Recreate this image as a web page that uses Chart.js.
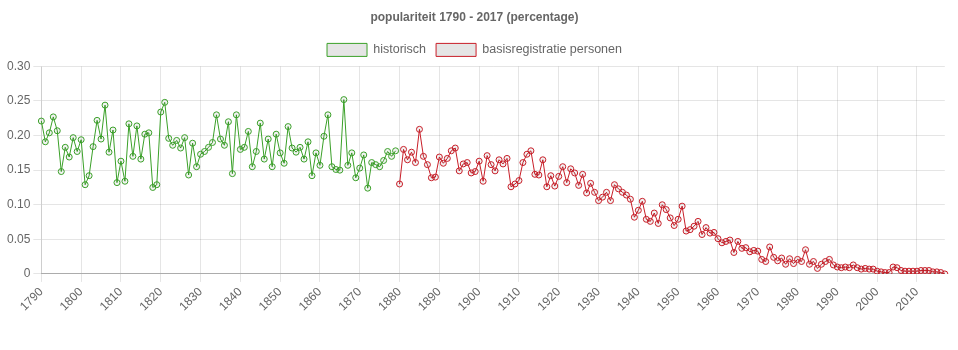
<!DOCTYPE html>
<html>
<head>
<meta charset="utf-8">
<script src="https://cdn.jsdelivr.net/npm/chart.js@4.4.1/dist/chart.umd.min.js"></script>
<style>
  html, body { margin: 0; padding: 0; background: #fff; }
  #wrap { width: 958px; height: 350px; }
</style>
</head>
<body>
<div id="wrap"><canvas id="chart"></canvas></div>
<script>
const firstYear = 1790;
const lastYear = 2017;

// historisch, 1790 - 1879
const historischValues = [
  0.221, 0.191, 0.204, 0.227, 0.207, 0.148, 0.183, 0.169, 0.197, 0.177,
  0.194, 0.129, 0.142, 0.184, 0.222, 0.195, 0.244, 0.176, 0.208, 0.132,
  0.163, 0.134, 0.217, 0.170, 0.214, 0.166, 0.202, 0.204, 0.125, 0.129,
  0.234, 0.248, 0.196, 0.186, 0.193, 0.182, 0.197, 0.143, 0.189, 0.155,
  0.173, 0.177, 0.183, 0.190, 0.230, 0.195, 0.186, 0.220, 0.145, 0.230,
  0.180, 0.183, 0.206, 0.155, 0.177, 0.218, 0.166, 0.195, 0.155, 0.202,
  0.175, 0.160, 0.213, 0.182, 0.176, 0.183, 0.166, 0.191, 0.142, 0.175,
  0.157, 0.199, 0.230, 0.155, 0.151, 0.150, 0.252, 0.157, 0.175, 0.139,
  0.153, 0.172, 0.124, 0.161, 0.158, 0.155, 0.164, 0.177, 0.170, 0.178
];

// basisregistratie personen, 1880 - 2017
const brpValues = [
  0.130, 0.180, 0.165, 0.176, 0.161, 0.209, 0.170, 0.158, 0.139, 0.140,
  0.169, 0.160, 0.167, 0.178, 0.182, 0.149, 0.159, 0.161, 0.146, 0.148,
  0.163, 0.134, 0.171, 0.158, 0.149, 0.165, 0.159, 0.167, 0.126, 0.130,
  0.135, 0.161, 0.173, 0.178, 0.144, 0.143, 0.165, 0.126, 0.142, 0.127,
  0.141, 0.155, 0.132, 0.152, 0.146, 0.128, 0.144, 0.117, 0.131, 0.118,
  0.106, 0.111, 0.118, 0.106, 0.129, 0.123, 0.118, 0.114, 0.108, 0.082,
  0.092, 0.105, 0.079, 0.076, 0.088, 0.073, 0.100, 0.093, 0.081, 0.070,
  0.079, 0.098, 0.062, 0.064, 0.069, 0.076, 0.057, 0.067, 0.059, 0.060,
  0.051, 0.045, 0.047, 0.049, 0.031, 0.047, 0.037, 0.038, 0.032, 0.034,
  0.033, 0.021, 0.018, 0.039, 0.024, 0.019, 0.023, 0.014, 0.022, 0.015,
  0.021, 0.018, 0.035, 0.014, 0.018, 0.008, 0.014, 0.018, 0.021, 0.013,
  0.010, 0.009, 0.010, 0.009, 0.013, 0.009, 0.007, 0.008, 0.007, 0.007,
  0.004, 0.003, 0.002, 0.002, 0.010, 0.009, 0.005, 0.004, 0.004, 0.004,
  0.004, 0.005, 0.005, 0.005, 0.003, 0.003, 0.002, 0.000
];

const years = [];
for (let y = firstYear; y <= lastYear; y++) years.push(y);

const green = "rgb(58, 160, 40)";
const red = "rgb(200, 30, 40)";

const historischData = years.map((y, i) => (i < historischValues.length ? historischValues[i] : null));
const brpData = years.map((y, i) => {
  const j = i - historischValues.length;
  return j >= 0 ? brpValues[j] : null;
});

Chart.defaults.font.family = "'Liberation Sans', Arial, sans-serif";
Chart.defaults.font.size = 12;
Chart.defaults.color = "#666";

const gridColor = "rgba(0, 0, 0, 0.1)";

new Chart(document.getElementById("chart"), {
  type: "line",
  data: {
    labels: years,
    datasets: [
      {
        label: "historisch",
        data: historischData,
        borderColor: green,
        backgroundColor: "rgba(0, 0, 0, 0.1)",
        pointBorderColor: green,
        pointBackgroundColor: "rgba(0, 0, 0, 0.05)",
        borderWidth: 1,
        pointRadius: 3,
        pointBorderWidth: 1,
        fill: false,
        tension: 0,
      },
      {
        label: "basisregistratie personen",
        data: brpData,
        borderColor: red,
        backgroundColor: "rgba(0, 0, 0, 0.1)",
        pointBorderColor: red,
        pointBackgroundColor: "rgba(0, 0, 0, 0.05)",
        borderWidth: 1,
        pointRadius: 3,
        pointBorderWidth: 1,
        fill: false,
        tension: 0,
      },
    ],
  },
  options: {
    responsive: true,
    maintainAspectRatio: false,
    animation: false,
    layout: { padding: { left: 4, right: 13, top: 0, bottom: 33 } },
    plugins: {
      title: {
        display: true,
        text: "populariteit 1790 - 2017 (percentage)",
        font: { size: 12, weight: "bold" },
        color: "#666",
        padding: { top: 10, bottom: 9 },
      },
      legend: {
        labels: { boxWidth: 40, boxHeight: 13, color: "#666", font: { size: 12.5 } },
      },
      tooltip: { enabled: false },
    },
    scales: {
      x: {
        grid: {
          color: (ctx) => (years[ctx.index] % 10 === 0 ? gridColor : "transparent"),
        },
        border: { color: "rgba(0, 0, 0, 0.25)" },
        ticks: {
          autoSkip: false,
          minRotation: 45,
          maxRotation: 45,
          callback: (val, i) => (years[i] % 10 === 0 ? String(years[i]) : ""),
        },
      },
      y: {
        min: 0,
        max: 0.3,
        grid: { color: gridColor },
        border: { color: gridColor },
        ticks: {
          stepSize: 0.05,
          callback: (v) => (v === 0 ? "0" : v.toFixed(2)),
        },
      },
    },
  },
});
</script>
</body>
</html>
